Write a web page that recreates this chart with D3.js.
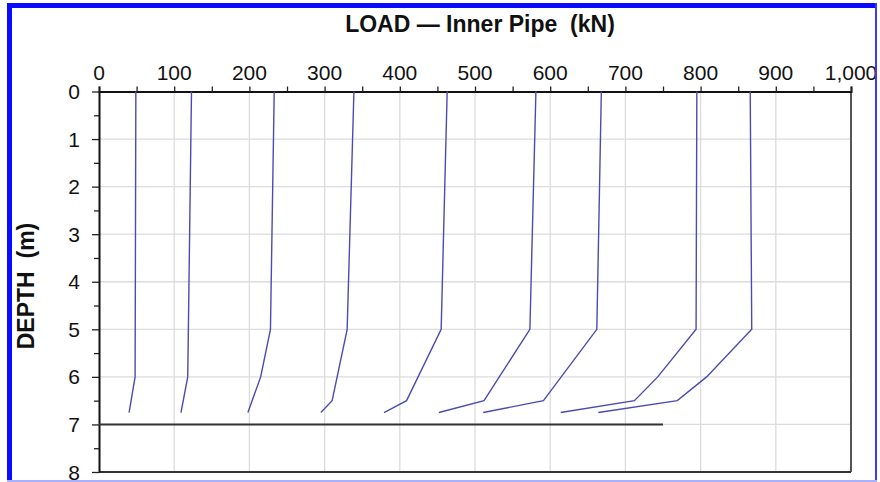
<!DOCTYPE html>
<html>
<head>
<meta charset="utf-8">
<script src="https://cdn.jsdelivr.net/npm/d3@7"></script>
<style>
  body { margin: 0; background: #fff; }
  text { font-family: "Liberation Sans", Arial, sans-serif; }
</style>
</head>
<body>
<div id="chart"></div>
<script>
// profundidades comunes de las lecturas (m)
var depthPts = [0, 5, 6, 6.5, 6.75];

// carga en el tubo interior (kN) para cada escalon; null = sin lectura
var load1 = [49, null, 48, null, 40];
var load2 = [123, null, 118, null, 109];
var load3 = [233, 228, 215, null, 198];
var load4 = [339, 330, null, 310, 295];
var load5 = [463, 455, null, 409, 379];
var load6 = [581, 573, null, 512, 452];
var load7 = [668, 662, null, 591, 511];
var load8 = [795, 794, 743, 712, 614];
var load9 = [866, 868, 808, 769, 664];
var curvas = [load1, load2, load3, load4, load5, load6, load7, load8, load9];

// linea de la punta del tubo
var tipDepth = 7;
var tipLoadMax = 750;

var xTicks = [0, 100, 200, 300, 400, 500, 600, 700, 800, 900, 1000];
var yTicks = [0, 1, 2, 3, 4, 5, 6, 7, 8];

var W = 880, H = 482;
var svg = d3.select("#chart").append("svg")
    .attr("width", W)
    .attr("height", H);

svg.append("rect").attr("x", 7).attr("y", 3).attr("width", 870).attr("height", 478)
    .attr("fill", "#fff");

var x = d3.scaleLinear().domain([0, 1000]).range([99, 851]);
var y = d3.scaleLinear().domain([0, 8]).range([91.5, 472]);

// rejilla
svg.append("g").selectAll("line").data(xTicks.slice(1, -1)).enter()
    .append("line")
    .attr("x1", d => x(d)).attr("x2", d => x(d))
    .attr("y1", y(0)).attr("y2", y(8))
    .attr("stroke", "#dcdcdc").attr("stroke-width", 1.3);
svg.append("g").selectAll("line").data(yTicks.slice(1, -1)).enter()
    .append("line")
    .attr("x1", x(0)).attr("x2", x(1000))
    .attr("y1", d => y(d)).attr("y2", d => y(d))
    .attr("stroke", "#dcdcdc").attr("stroke-width", 1.3);

// borde derecho e inferior
svg.append("line").attr("x1", x(1000)).attr("x2", x(1000)).attr("y1", y(0)).attr("y2", y(8))
    .attr("stroke", "#555").attr("stroke-width", 2);
svg.append("line").attr("x1", x(0)).attr("x2", x(1000)).attr("y1", y(8)).attr("y2", y(8))
    .attr("stroke", "#333").attr("stroke-width", 2);

// eje superior
var xAxis = d3.axisTop(x).tickValues(d3.range(0, 1001, 50)).tickSize(5).tickFormat("");
var gx = svg.append("g").attr("transform", "translate(0," + y(0) + ")").call(xAxis);
gx.select(".domain").attr("stroke", "#111").attr("stroke-width", 2);
gx.selectAll(".tick line").attr("stroke", "#222").attr("stroke-width", 1.3);

svg.append("g").selectAll("text").data(xTicks).enter()
    .append("text")
    .attr("x", d => x(d))
    .attr("y", 80)
    .attr("text-anchor", "middle")
    .style("font-size", "21px")
    .attr("fill", "#111")
    .text(d => d3.format(",")(d));

// eje izquierdo
var yAxis = d3.axisLeft(y).tickValues(d3.range(0, 8.01, 0.5)).tickSizeOuter(0)
    .tickSize(0).tickFormat("");
var gy = svg.append("g").attr("transform", "translate(" + x(0) + ",0)").call(yAxis);
gy.select(".domain").attr("stroke", "#111").attr("stroke-width", 2);
gy.selectAll(".tick line")
    .attr("x2", d => (d % 1 === 0 ? -7 : -5))
    .attr("stroke", "#222").attr("stroke-width", 1.3);

svg.append("g").selectAll("text").data(yTicks).enter()
    .append("text")
    .attr("x", 80)
    .attr("y", d => y(d))
    .attr("dy", "0.36em")
    .attr("text-anchor", "end")
    .style("font-size", "21px")
    .attr("fill", "#111")
    .text(d => d);

// linea horizontal a 7 m
svg.append("line")
    .attr("x1", x(0)).attr("x2", x(tipLoadMax))
    .attr("y1", y(tipDepth)).attr("y2", y(tipDepth))
    .attr("stroke", "#333").attr("stroke-width", 2);

// curvas de carga
var linea = d3.line()
    .x(d => x(d.load))
    .y(d => y(d.depth));

curvas.forEach(function(c) {
    var pts = c.map((v, i) => ({ load: v, depth: depthPts[i] })).filter(p => p.load !== null);
    svg.append("path")
        .datum(pts)
        .attr("fill", "none")
        .attr("stroke", "#4b4bb4")
        .attr("stroke-width", 1.4)
        .attr("d", linea);
});

// titulos
svg.append("text")
    .attr("x", 480)
    .attr("y", 32)
    .attr("text-anchor", "middle")
    .style("font-size", "23px")
    .style("font-weight", "bold")
    .attr("fill", "#111")
    .attr("xml:space", "preserve")
    .text("LOAD \u2014 Inner Pipe  (kN)");

svg.append("text")
    .attr("transform", "translate(34,286) rotate(-90)")
    .attr("text-anchor", "middle")
    .style("font-size", "23px")
    .style("font-weight", "bold")
    .attr("fill", "#111")
    .attr("xml:space", "preserve")
    .text("DEPTH  (m)");

// marco azul (encima de todo)
svg.append("rect").attr("x", 7).attr("y", 3).attr("width", 5).attr("height", 478).attr("fill", "#0a0aff");
svg.append("rect").attr("x", 7).attr("y", 3).attr("width", 870).attr("height", 5).attr("fill", "#0a0aff");
svg.append("rect").attr("x", 875).attr("y", 3).attr("width", 2).attr("height", 478).attr("fill", "#3a3aff");
svg.append("rect").attr("x", 7).attr("y", 480).attr("width", 870).attr("height", 2).attr("fill", "#a8b0ff");
</script>
</body>
</html>
